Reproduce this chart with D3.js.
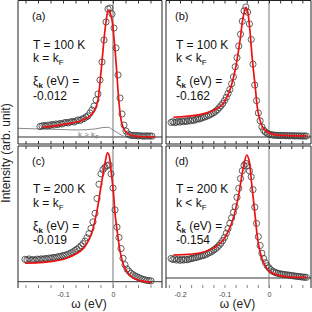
<!DOCTYPE html>
<html><head><meta charset="utf-8">
<script src="https://cdn.jsdelivr.net/npm/d3@7"></script>
<style>
html,body{margin:0;padding:0;background:#fff;}
svg{display:block;font-family:"Liberation Sans",Arial,sans-serif;}
</style></head><body>
<svg id="chart" width="312" height="312"></svg>
<script>
// ---- data: [omega (eV), intensity (arb.)] ----
const pointsA = [[-0.146,0.081],[-0.142,0.085],[-0.138,0.088],[-0.134,0.085],[-0.130,0.092],[-0.126,0.088],[-0.122,0.096],[-0.118,0.092],[-0.114,0.100],[-0.110,0.096],[-0.106,0.104],[-0.102,0.100],[-0.098,0.108],[-0.094,0.112],[-0.090,0.108],[-0.086,0.115],[-0.082,0.119],[-0.078,0.115],[-0.074,0.123],[-0.070,0.131],[-0.066,0.127],[-0.062,0.138],[-0.058,0.142],[-0.054,0.154],[-0.050,0.162],[-0.046,0.185],[-0.042,0.208],[-0.038,0.238],[-0.034,0.285],[-0.030,0.331],[-0.026,0.438],[-0.022,0.577],[-0.018,0.746],[-0.014,0.885],[-0.010,0.985],[-0.006,0.992],[-0.002,0.946],[0.002,0.838],[0.006,0.685],[0.010,0.477],[0.014,0.300],[0.018,0.177],[0.022,0.092],[0.026,0.046],[0.030,0.023],[0.034,0.015],[0.038,0.012],[0.042,0.010],[0.046,0.012],[0.050,0.008],[0.054,0.010],[0.058,0.008],[0.062,0.006],[0.066,0.009],[0.070,0.007],[0.074,0.008],[0.078,0.006]];
const fitA = [[-0.142,0.077],[-0.106,0.092],[-0.066,0.123],[-0.046,0.160],[-0.036,0.210],[-0.030,0.285],[-0.026,0.420],[-0.022,0.580],[-0.018,0.750],[-0.014,0.885],[-0.010,0.970],[-0.008,0.977],[-0.006,0.960],[-0.002,0.900],[0.002,0.760],[0.006,0.580],[0.010,0.360],[0.014,0.190],[0.018,0.100],[0.024,0.046],[0.034,0.015],[0.054,0.004],[0.084,0.000]];
const refA = [[-0.190,0.067],[-0.150,0.062],[-0.106,0.058],[-0.072,0.054],[-0.036,0.062],[-0.020,0.073],[-0.010,0.075],[0.000,0.054],[0.010,0.031],[0.018,0.012],[0.028,0.000],[0.098,0.000]];

const pointsB = [[-0.220,0.112],[-0.216,0.118],[-0.212,0.110],[-0.208,0.115],[-0.204,0.120],[-0.200,0.114],[-0.196,0.122],[-0.192,0.118],[-0.188,0.124],[-0.184,0.120],[-0.180,0.128],[-0.176,0.124],[-0.172,0.132],[-0.168,0.128],[-0.164,0.136],[-0.160,0.140],[-0.156,0.138],[-0.152,0.146],[-0.148,0.150],[-0.144,0.155],[-0.140,0.160],[-0.136,0.166],[-0.132,0.172],[-0.128,0.180],[-0.124,0.188],[-0.120,0.198],[-0.116,0.210],[-0.112,0.225],[-0.108,0.240],[-0.104,0.258],[-0.100,0.280],[-0.096,0.305],[-0.092,0.335],[-0.088,0.365],[-0.084,0.410],[-0.080,0.462],[-0.076,0.540],[-0.072,0.610],[-0.068,0.700],[-0.064,0.790],[-0.060,0.890],[-0.056,0.970],[-0.052,1.000],[-0.048,0.960],[-0.044,0.870],[-0.040,0.750],[-0.036,0.560],[-0.032,0.400],[-0.028,0.280],[-0.024,0.185],[-0.020,0.125],[-0.016,0.078],[-0.012,0.052],[-0.008,0.038],[-0.004,0.028],[0.000,0.022],[0.004,0.018],[0.008,0.016],[0.012,0.014],[0.016,0.013],[0.020,0.012],[0.024,0.012],[0.028,0.011],[0.032,0.012],[0.036,0.010],[0.040,0.011],[0.044,0.010],[0.048,0.009],[0.052,0.010],[0.056,0.009],[0.060,0.008],[0.064,0.009],[0.068,0.008],[0.072,0.008],[0.076,0.007],[0.080,0.008],[0.084,0.007]];
const fitB = [[-0.215,0.152],[-0.144,0.182],[-0.106,0.246],[-0.088,0.362],[-0.076,0.515],[-0.065,0.746],[-0.058,0.925],[-0.052,0.998],[-0.048,0.964],[-0.043,0.823],[-0.038,0.618],[-0.031,0.387],[-0.024,0.182],[-0.013,0.067],[0.002,0.028],[0.021,0.015],[0.085,0.008]];

const pointsC = [[-0.176,0.172],[-0.172,0.168],[-0.168,0.175],[-0.164,0.165],[-0.160,0.170],[-0.156,0.166],[-0.152,0.174],[-0.148,0.170],[-0.144,0.176],[-0.140,0.172],[-0.136,0.178],[-0.132,0.176],[-0.128,0.182],[-0.124,0.180],[-0.120,0.186],[-0.116,0.184],[-0.112,0.190],[-0.108,0.192],[-0.104,0.196],[-0.100,0.200],[-0.096,0.204],[-0.092,0.208],[-0.088,0.214],[-0.084,0.222],[-0.080,0.230],[-0.076,0.240],[-0.072,0.250],[-0.068,0.262],[-0.064,0.276],[-0.060,0.292],[-0.056,0.312],[-0.052,0.338],[-0.048,0.370],[-0.044,0.410],[-0.040,0.460],[-0.036,0.526],[-0.032,0.640],[-0.028,0.750],[-0.024,0.830],[-0.020,0.862],[-0.016,0.880],[-0.012,0.892],[-0.008,0.898],[-0.004,0.830],[0.000,0.720],[0.004,0.552],[0.008,0.420],[0.012,0.340],[0.016,0.255],[0.020,0.180],[0.024,0.130],[0.028,0.098],[0.032,0.080],[0.036,0.064],[0.040,0.054],[0.044,0.045],[0.048,0.038],[0.052,0.030],[0.056,0.024],[0.060,0.018],[0.064,0.014],[0.068,0.010],[0.072,0.008],[0.076,0.006]];
const fitC = [[-0.176,0.142],[-0.126,0.154],[-0.093,0.180],[-0.059,0.257],[-0.043,0.372],[-0.033,0.526],[-0.023,0.757],[-0.016,0.911],[-0.011,0.992],[-0.008,0.975],[-0.004,0.859],[0.001,0.680],[0.004,0.526],[0.009,0.372],[0.015,0.218],[0.024,0.103],[0.041,0.026],[0.077,-0.005]];

const pointsD = [[-0.220,0.150],[-0.216,0.142],[-0.212,0.148],[-0.208,0.138],[-0.204,0.145],[-0.200,0.136],[-0.196,0.142],[-0.192,0.138],[-0.188,0.144],[-0.184,0.140],[-0.180,0.146],[-0.176,0.148],[-0.172,0.152],[-0.168,0.155],[-0.164,0.158],[-0.160,0.162],[-0.156,0.166],[-0.152,0.170],[-0.148,0.174],[-0.144,0.178],[-0.140,0.184],[-0.136,0.192],[-0.132,0.198],[-0.128,0.206],[-0.124,0.216],[-0.120,0.226],[-0.116,0.238],[-0.112,0.252],[-0.108,0.268],[-0.104,0.288],[-0.100,0.312],[-0.096,0.344],[-0.092,0.380],[-0.088,0.421],[-0.084,0.462],[-0.080,0.505],[-0.076,0.548],[-0.072,0.620],[-0.068,0.690],[-0.064,0.765],[-0.060,0.825],[-0.056,0.866],[-0.052,0.882],[-0.048,0.862],[-0.044,0.825],[-0.040,0.779],[-0.036,0.680],[-0.032,0.545],[-0.028,0.420],[-0.024,0.318],[-0.020,0.250],[-0.016,0.190],[-0.012,0.150],[-0.008,0.118],[-0.004,0.094],[0.000,0.078],[0.004,0.064],[0.008,0.052],[0.012,0.046],[0.016,0.040],[0.020,0.036],[0.024,0.032],[0.028,0.030],[0.032,0.028],[0.036,0.026],[0.040,0.024],[0.044,0.022],[0.048,0.020],[0.052,0.018],[0.056,0.016],[0.060,0.014],[0.064,0.012],[0.068,0.011],[0.072,0.009],[0.076,0.007],[0.080,0.006],[0.084,0.005]];
const fitD = [[-0.215,0.177],[-0.144,0.202],[-0.106,0.279],[-0.084,0.421],[-0.069,0.625],[-0.058,0.844],[-0.050,0.946],[-0.045,0.908],[-0.039,0.728],[-0.031,0.472],[-0.024,0.267],[-0.013,0.125],[0.002,0.048],[0.029,0.015],[0.085,0.005]];

const ticksLeft = [-0.175,-0.15,-0.125,-0.1,-0.075,-0.05,-0.025,0,0.025,0.05,0.075];
const ticksRight = [-0.225,-0.2,-0.175,-0.15,-0.125,-0.1,-0.075,-0.05,-0.025,0,0.025,0.05,0.075];
const tickLabels = [-0.2,-0.1,0];

const panelLabels = ["(a)","(b)","(c)","(d)"];
const temperatures = ["T = 100 K","T = 100 K","T = 200 K","T = 200 K"];
const relations = ["=","<","=","<"];
const xiValues = ["-0.012","-0.162","-0.019","-0.154"];

// ---- layout ----
const cols = [
  {x0:18, x1:162, dom:[-0.19,0.098], ticks:ticksLeft},
  {x0:166, x1:311, dom:[-0.2315,0.0944], ticks:ticksRight}
];
const rows = [
  {y0:0.5, y1:144},
  {y0:146, y1:288}
];
const zeroY = [137,137,281.7,278];   // pixel of intensity 0 per panel
const panelData = [
  {pts:pointsA, fit:fitA, col:0, row:0},
  {pts:pointsB, fit:fitB, col:1, row:0},
  {pts:pointsC, fit:fitC, col:0, row:1},
  {pts:pointsD, fit:fitD, col:1, row:1}
];

const svg = d3.select("#chart");
const defs = svg.append("defs");

panelData.forEach((p,i)=>{
  const c = cols[p.col], r = rows[p.row];
  const x = d3.scaleLinear().domain(c.dom).range([c.x0,c.x1]);
  const y = d3.scaleLinear().domain([0,1]).range([zeroY[i], zeroY[i]-130]);
  const g = svg.append("g");
  defs.append("clipPath").attr("id","clip"+i).append("rect")
    .attr("x",c.x0).attr("y",r.y0).attr("width",c.x1-c.x0).attr("height",r.y1-r.y0);
  const plot = g.append("g").attr("clip-path",`url(#clip${i})`);

  // baseline and zero line
  plot.append("line").attr("x1",c.x0).attr("x2",c.x1).attr("y1",y(0)).attr("y2",y(0))
    .attr("stroke","#333").attr("stroke-width",1);
  plot.append("line").attr("x1",x(0)).attr("x2",x(0)).attr("y1",r.y0).attr("y2",r.y1)
    .attr("stroke","#777").attr("stroke-width",1);

  if(i===0){
    plot.append("path").datum(refA)
      .attr("d",d3.line().x(d=>x(d[0])).y(d=>y(d[1])).curve(d3.curveMonotoneX))
      .attr("fill","none").attr("stroke","#888").attr("stroke-width",1);
    const t = g.append("text").attr("x",x(-0.07)).attr("y",y(-0.002)).attr("font-size",8).attr("fill","#777");
    t.append("tspan").text("k > k");
    t.append("tspan").attr("font-size",6).attr("dy",2).text("F");
  }

  plot.selectAll("circle").data(p.pts).enter().append("circle")
    .attr("cx",d=>x(d[0])).attr("cy",d=>y(d[1])).attr("r",3.1)
    .attr("fill","none").attr("stroke","#3a3a3a").attr("stroke-width",0.8);

  plot.append("path").datum(p.fit)
    .attr("d",d3.line().x(d=>x(d[0])).y(d=>y(d[1])).curve(d3.curveCatmullRom.alpha(0.5)))
    .attr("fill","none").attr("stroke","#ee1111").attr("stroke-width",1.7);

  // frame
  const fr = g.append("g").attr("stroke","#222").attr("stroke-width",1);
  fr.append("line").attr("x1",c.x0).attr("x2",c.x1).attr("y1",r.y0).attr("y2",r.y0);
  fr.append("line").attr("x1",c.x0).attr("x2",c.x0).attr("y1",r.y0).attr("y2",r.y1);
  fr.append("line").attr("x1",c.x1).attr("x2",c.x1).attr("y1",r.y0).attr("y2",r.y1);
  if(p.row===0) fr.append("line").attr("x1",c.x0).attr("x2",c.x1).attr("y1",r.y1).attr("y2",r.y1);

  // ticks
  const topAx = g.append("g").attr("transform",`translate(0,${r.y0})`)
    .call(d3.axisTop(x).tickValues(c.ticks).tickSizeInner(-3).tickSizeOuter(0).tickFormat(""));
  const botAx = g.append("g").attr("transform",`translate(0,${r.y1})`)
    .call(d3.axisBottom(x).tickValues(c.ticks).tickSizeInner(-3).tickSizeOuter(0).tickPadding(4)
      .tickFormat(d => (p.row===1 && tickLabels.some(v=>Math.abs(v-d)<1e-9)) ? String(d) : ""));
  [topAx,botAx].forEach(a=>{
    a.select(".domain").remove();
    a.selectAll(".tick line").attr("stroke", p.row===1 && a===botAx ? "#888" : "#333");
    a.selectAll(".tick text").attr("font-size",7).attr("fill","#444")
      .attr("font-family","'Liberation Sans',Arial,sans-serif");
  });

  // annotations
  const tx = c.x0 + (p.col===0 ? 15 : 10);
  const by = p.row===0 ? 0 : 144.5;
  g.append("text").attr("x",tx-1).attr("y",by+20).attr("font-size",11).attr("fill","#111").text(panelLabels[i]);
  g.append("text").attr("x",tx).attr("y",by+48.5).attr("font-size",12).attr("fill","#111").text(temperatures[i]);
  const k = g.append("text").attr("x",tx).attr("y",by+62).attr("font-size",12).attr("fill","#111");
  k.append("tspan").text(`k ${relations[i]} k`);
  k.append("tspan").attr("font-size",8).attr("dy",3).text("F");
  const xi = g.append("text").attr("x",tx).attr("y",by+85).attr("font-size",12).attr("fill","#111");
  xi.append("tspan").text("ξ");
  xi.append("tspan").attr("font-size",8).attr("font-weight","bold").attr("dy",3).text("k");
  xi.append("tspan").attr("dy",-3).text(" (eV) =");
  g.append("text").attr("x",tx).attr("y",by+99.5).attr("font-size",12).attr("fill","#111").text(xiValues[i]);

  if(p.row===1){
    g.append("text").attr("x",(c.x0+c.x1)/2-1).attr("y",308).attr("text-anchor","middle")
      .attr("font-size",12).attr("fill","#222").text("ω (eV)");
  }
});

svg.append("text").attr("transform","translate(10,153) rotate(-90)").attr("text-anchor","middle")
  .attr("font-size",12).attr("fill","#222").text("Intensity (arb. unit)");
</script>
</body></html>
